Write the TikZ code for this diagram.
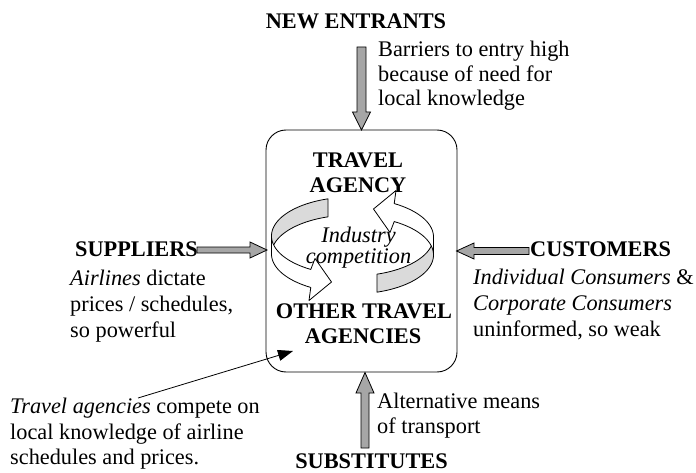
\documentclass[tikz,border=0pt]{standalone}
\usepackage{fontspec}
\setmainfont{Liberation Serif}
\usetikzlibrary{arrows.meta}
\definecolor{arrowgray}{RGB}{166,166,166}
\definecolor{ringgray}{RGB}{218,218,218}
\newcommand{\ringhalfpaths}{%
    \path[ring, fill=ringgray]
      plot[domain=180:252.4, samples=40, variable=\t] ({352.5+81*cos(\t)},{236+39*sin(\t)})
      -- plot[domain=252.4:180, samples=40, variable=\t] ({352.5+81*cos(\t)},{254+39*sin(\t)})
      -- cycle;
    \path[ring, fill=white]
      plot[domain=180:121, samples=40, variable=\t] ({352.5+81*cos(\t)},{236+39*sin(\t)})
      -- (315,258.5) -- (331.5,282) -- (309,300.5)
      -- plot[domain=121:180, samples=40, variable=\t] ({352.5+81*cos(\t)},{254+39*sin(\t)})
      -- cycle;
}
\begin{document}
\begin{tikzpicture}[x=1pt,y=-1pt,
  txt/.style={inner sep=0pt, font=\fontsize{22.3}{25.6}\selectfont, anchor=base west},
  ctxt/.style={txt, anchor=base},
  btxt/.style={inner sep=0pt, anchor=base, font=\fontsize{22.3}{25.6}\selectfont\bfseries},
  blk/.style={draw=black, fill=arrowgray, line width=0.8pt, line join=miter},
  ring/.style={draw=black, line width=0.8pt, line join=round}
]
\useasboundingbox (0,0) rectangle (696,473);

% central box
\node[draw, line width=0.9pt, rounded corners=20pt, minimum width=191pt, minimum height=242pt, inner sep=0pt] (box) at (361.5,251) {};

% competition ring
\begin{scope}
  \ringhalfpaths
\end{scope}
\begin{scope}[rotate around={180:(352.5,245.5)}]
  \ringhalfpaths
\end{scope}

% block arrows
\path[blk] (357,47) -- (366,47) -- (366,112) -- (370.5,112) -- (361.5,130) -- (352.5,112) -- (357,112) -- cycle;
\path[blk] (197,247) -- (250,247) -- (250,242) -- (267,250) -- (250,258) -- (250,253) -- (197,253) -- cycle;
\path[blk] (529,247.5) -- (474,247.5) -- (474,243) -- (456.5,251) -- (474,259) -- (474,254.5) -- (529,254.5) -- cycle;
\path[blk] (361,448) -- (361,393) -- (356,393) -- (365,372.5) -- (374,393) -- (369,393) -- (369,448) -- cycle;

% labels
\node[btxt] (ne) at (356,29) {NEW ENTRANTS};
\node[txt] (ne1) at (378,57) {Barriers to entry high};
\node[txt] (ne2) at (378,81.5) {because of need for};
\node[txt] (ne3) at (378,106) {local knowledge};

\node[btxt, anchor=base west] (sup) at (75,256) {SUPPLIERS};
\node[txt] (sup1) at (70,285) {\textit{Airlines} dictate};
\node[txt] (sup2) at (70,311) {prices / schedules,};
\node[txt] (sup3) at (70,337) {so powerful};

\node[btxt, anchor=base west] (cus) at (530,256) {CUSTOMERS};
\node[txt] (cus1) at (473,284) {\textit{Individual Consumers} \&};
\node[txt] (cus2) at (473,310) {\textit{Corporate Consumers}};
\node[txt] (cus3) at (473,336) {uninformed, so weak};

\node[btxt] (ta1) at (358,168) {TRAVEL};
\node[btxt] (ta2) at (358,193) {AGENCY};
\node[ctxt] (ic1) at (358.5,242) {\textit{Industry}};
\node[ctxt] (ic2) at (358.5,263) {\textit{competition}};
\node[btxt] (ot1) at (364,318) {OTHER TRAVEL};
\node[btxt] (ot2) at (363,343) {AGENCIES};

\node[txt] (sub1) at (377,408) {Alternative means};
\node[txt] (sub2) at (377,433) {of transport};
\node[btxt] (sub) at (371.5,468.5) {SUBSTITUTES};

\node[txt] (tr1) at (10,413) {\textit{Travel agencies} compete on};
\node[txt] (tr2) at (10,439) {local knowledge of airline};
\node[txt] (tr3) at (10,464) {schedules and prices.};

% pointer
\coordinate (ptrs) at (138,398);
\coordinate (ptre) at (293,351);
\draw[line width=0.8pt, -{Triangle[length=15pt,width=11pt]}] (ptrs) -- (ptre);
\end{tikzpicture}
\end{document}
